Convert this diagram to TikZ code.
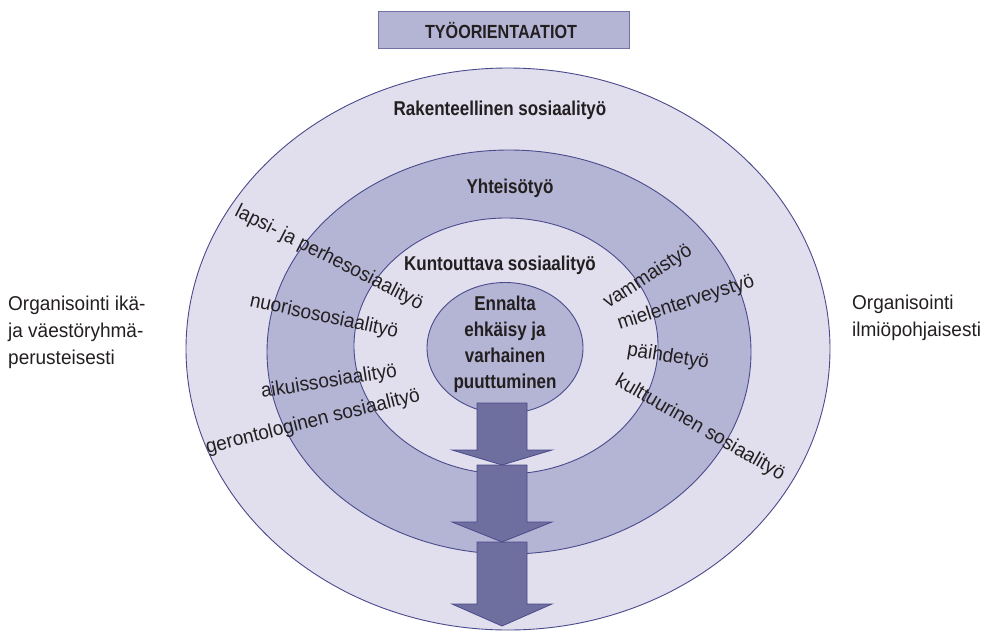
\documentclass[tikz,border=0pt]{standalone}
\usepackage{fontspec}
\setmainfont{Liberation Sans}[FakeStretch=0.95]
\newfontfamily\headfont{Liberation Sans}[FakeStretch=0.85]
\usepackage{tikz}
\usetikzlibrary{shapes.geometric}
\definecolor{ringlight}{HTML}{E1DFEE}
\definecolor{ringdark}{HTML}{B4B4D4}
\definecolor{ringline}{HTML}{4A4A8C}
\definecolor{arrowfill}{HTML}{6F6F9F}
\definecolor{titleline}{HTML}{7171A6}
\definecolor{textgray}{HTML}{231F20}

\begin{document}
\begin{tikzpicture}[x=1pt, y=1pt,
    ring/.style={draw=ringline, line width=0.9pt, ellipse, inner sep=0pt},
    worklabel/.style={font=\fontsize{20}{27}\selectfont, text=textgray, inner sep=0pt},
    heading/.style={font=\headfont\bfseries\fontsize{20}{26}\selectfont, text=textgray, inner sep=0pt, align=center},
    side/.style={font=\fontsize{20}{27}\selectfont, text=textgray, align=left, anchor=west, inner sep=0pt},
    blockarrow/.style={draw=ringline, fill=arrowfill, line width=0.8pt, line join=miter}]

\useasboundingbox (0,0) rectangle (993,-632);

% otsikko
\node[draw=titleline, line width=1pt, fill=ringdark, minimum width=251, minimum height=37, inner sep=0pt] (title) at (504,-29.5) {};
\node[heading, font=\headfont\bfseries\fontsize{19}{24}\selectfont] (titletext) at (501,-30) {TYÖORIENTAATIOT};

% renkaat
\node[ring, fill=ringlight, minimum width=644, minimum height=562] (outer) at (508,-349) {};
\node[ring, fill=ringdark, minimum width=484, minimum height=404] (middle) at (509,-352) {};
\node[ring, fill=ringlight, minimum width=304, minimum height=256] (inner) at (506,-346) {};
\node[ring, fill=ringdark, minimum width=156, minimum height=131] (core) at (505,-348) {};

% nuolet
\foreach \ya/\yb/\yc in {403/450/465, 465/522/542, 542/604/626}
  \draw[blockarrow] (477,-\ya) -- (527,-\ya) -- (527,-\yb) -- (552,-\yb) -- (502,-\yc)
    -- (452,-\yb) -- (477,-\yb) -- cycle;

% tasot
\node[heading] (structural) at (500,-110) {Rakenteellinen sosiaalityö};
\node[heading] (community) at (510,-188) {Yhteisötyö};
\node[heading] (rehab) at (500,-265) {Kuntouttava sosiaalityö};
\node[heading] (prevention) at (505,-344) {Ennalta\\ehkäisy ja\\varhainen\\puuttuminen};

% ikä- ja väestöryhmät
\node[worklabel, rotate=-27] (family) at (329,-258) {lapsi- ja perhesosiaalityö};
\node[worklabel, rotate=-12] (youth) at (324,-317) {nuorisososiaalityö};
\node[worklabel, rotate=9] (adult) at (329,-382) {aikuissosiaalityö};
\node[worklabel, rotate=14] (elderly) at (313,-422) {gerontologinen sosiaalityö};

% ilmiöt
\node[worklabel, rotate=33] (disability) at (648,-277) {vammaistyö};
\node[worklabel, rotate=18] (mental) at (686,-303) {mielenterveystyö};
\node[worklabel, rotate=-9] (substance) at (668,-357) {päihdetyö};
\node[worklabel, rotate=-30] (culture) at (700,-428) {kulttuurinen sosiaalityö};

% sivutekstit
\node[side] (leftside) at (8,-332) {Organisointi ikä-\\ja väestöryhmä-\\perusteisesti};
\node[side] (rightside) at (852,-318) {Organisointi\\ilmiöpohjaisesti};
\end{tikzpicture}
\end{document}
